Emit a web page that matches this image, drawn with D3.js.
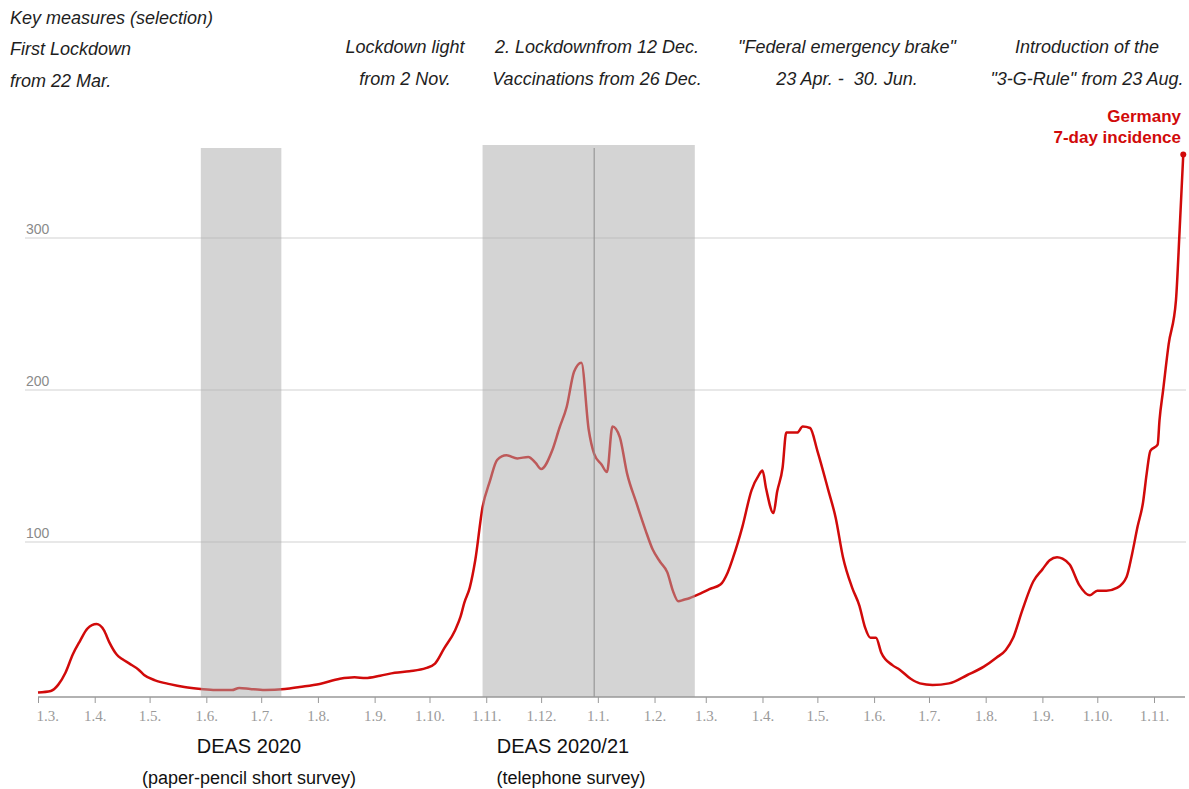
<!DOCTYPE html>
<html>
<head>
<meta charset="utf-8">
<script src="https://cdn.jsdelivr.net/npm/d3@7"></script>
<style>
body { margin: 0; background: #fff; }
text { font-family: "Liberation Sans", Arial, sans-serif; white-space: pre; }
</style>
</head>
<body>
<div id="main"></div>
<script>
var ctx = {
    w: 1189,
    h: 789,
};

// 7-day incidence Germany
var dates = [
    "2020-03-01","2020-03-08","2020-03-12","2020-03-16","2020-03-20","2020-03-24","2020-03-28","2020-04-02",
    "2020-04-06","2020-04-09","2020-04-13","2020-04-16","2020-04-20","2020-04-25","2020-04-28","2020-05-04",
    "2020-05-12","2020-05-20","2020-05-29","2020-06-06","2020-06-15","2020-06-19","2020-06-25","2020-07-03",
    "2020-07-14","2020-07-22","2020-08-02","2020-08-13","2020-08-21","2020-08-27","2020-09-04","2020-09-12",
    "2020-09-20","2020-09-29","2020-10-04","2020-10-09","2020-10-15","2020-10-18","2020-10-20","2020-10-23",
    "2020-10-26","2020-10-30","2020-11-03","2020-11-07","2020-11-12","2020-11-18","2020-11-24","2020-11-28",
    "2020-12-01","2020-12-07","2020-12-11","2020-12-15","2020-12-19","2020-12-23","2020-12-27","2020-12-30",
    "2021-01-03","2021-01-06","2021-01-09","2021-01-13","2021-01-17","2021-01-22","2021-01-27","2021-01-31",
    "2021-02-04","2021-02-08","2021-02-11","2021-02-14","2021-02-17","2021-02-20","2021-02-26","2021-03-03",
    "2021-03-09","2021-03-13","2021-03-16","2021-03-21","2021-03-26","2021-03-30","2021-04-01","2021-04-03",
    "2021-04-07","2021-04-09","2021-04-12","2021-04-14","2021-04-20","2021-04-23","2021-04-27","2021-05-01",
    "2021-05-07","2021-05-11","2021-05-15","2021-05-20","2021-05-24","2021-05-27","2021-05-30","2021-06-02",
    "2021-06-05","2021-06-11","2021-06-15","2021-06-21","2021-06-26","2021-07-03","2021-07-12","2021-07-22",
    "2021-07-31","2021-08-07","2021-08-12","2021-08-16","2021-08-21","2021-08-27","2021-09-01","2021-09-05",
    "2021-09-09","2021-09-12","2021-09-16","2021-09-21","2021-09-27","2021-10-01","2021-10-06","2021-10-12",
    "2021-10-17","2021-10-20","2021-10-23","2021-10-26","2021-10-28","2021-10-30","2021-11-03","2021-11-04",
    "2021-11-06","2021-11-09","2021-11-13","2021-11-15","2021-11-17"
];
var incidence = [
    1, 2, 6, 14, 26, 35, 43, 46,
    42, 34, 26, 23, 20, 16, 12.5, 9,
    6.5, 4.6, 3.3, 2.6, 2.6, 4, 3.3, 2.6,
    3.3, 4.6, 6.6, 10, 11, 10.5, 12, 14,
    15, 17, 20, 30, 42, 51, 60, 70,
    88, 123, 140, 154, 157, 155, 156, 152,
    148, 160, 175, 189, 212, 218, 174, 158,
    151, 146, 176, 169, 145, 126, 108, 95,
    87, 80, 68, 61, 62, 63, 66, 69,
    72, 80, 90, 110, 134, 144, 147, 135,
    119, 133, 149, 172, 172, 176, 175, 160,
    134, 116, 90, 70, 58, 44, 37, 37,
    27, 19, 16, 10, 7, 6, 7, 12.5,
    18, 24, 29, 37, 55, 74, 82, 88,
    90, 89, 85, 72, 65, 68, 68, 70,
    77, 92, 110, 126, 145, 160, 164, 180,
    200, 230, 259, 305, 355
];

var yTicks = [100, 200, 300];
var axisStart = "2020-03-01";
var axisEnd = "2021-11-01";

// DEAS survey field periods (grey bands)
var surveyStarts = ["2020-05-29", "2020-10-30"];
var surveyEnds = ["2020-07-12", "2021-02-23"];
var surveyNames = ["DEAS 2020", "DEAS 2020/21"];
var surveyModes = ["(paper-pencil short survey)", "(telephone survey)"];
var yearMark = "2020-12-30";

var headerLines = ["Key measures (selection)", "First Lockdown", "from 22 Mar."];
var measureLines = [
    ["Lockdown light", "from 2 Nov."],
    ["2. Lockdownfrom 12 Dec.", "Vaccinations from 26 Dec."],
    ["\"Federal emergency brake\"", "23 Apr. -  30. Jun."],
    ["Introduction of the", "\"3-G-Rule\" from 23 Aug."]
];
var seriesLabel = ["Germany", "7-day incidence"];

var parse = d3.utcParse("%Y-%m-%d");
var red = "#d10a0a";

var createViz = function(){
    var svg = d3.select("#main").append("svg")
        .attr("width", ctx.w)
        .attr("height", ctx.h)
        .style("display", "block");

    var data = dates.map(function(d, i){ return {date: parse(d), value: incidence[i]}; });

    var x = d3.scaleUtc()
        .domain([parse(axisStart), parse(axisEnd)])
        .range([38, 1154]);
    var y = d3.scaleLinear()
        .domain([0, 300])
        .range([694, 238]);
    var axisY = 697;

    // gridlines + y labels
    svg.append("g").selectAll("line")
        .data(yTicks).enter().append("line")
        .attr("x1", 25).attr("x2", 1186)
        .attr("y1", function(d){ return y(d); })
        .attr("y2", function(d){ return y(d); })
        .style("stroke", "#e0e0e0")
        .style("stroke-width", 1.5);
    svg.append("g").selectAll("text")
        .data(yTicks).enter().append("text")
        .attr("x", 26)
        .attr("y", function(d){ return y(d) - 4; })
        .style("font-size", "14px")
        .style("fill", "#8a8a8a")
        .text(function(d){ return d; });

    // incidence line
    var line = d3.line()
        .x(function(d){ return x(d.date); })
        .y(function(d){ return y(d.value); })
        .curve(d3.curveMonotoneX);
    svg.append("path")
        .datum(data)
        .attr("d", line)
        .style("fill", "none")
        .style("stroke", red)
        .style("stroke-width", 2.5)
        .style("stroke-linejoin", "round");

    var last = data[data.length - 1];
    svg.append("circle")
        .attr("cx", x(last.date))
        .attr("cy", y(last.value))
        .attr("r", 3)
        .style("fill", red);

    // survey bands (translucent, over the line)
    var bandTop = [148, 145];
    svg.append("g").selectAll("rect")
        .data(surveyStarts).enter().append("rect")
        .attr("x", function(d){ return x(parse(d)); })
        .attr("width", function(d, i){ return x(parse(surveyEnds[i])) - x(parse(d)); })
        .attr("y", function(d, i){ return bandTop[i]; })
        .attr("height", function(d, i){ return axisY - bandTop[i]; })
        .style("fill", "#a9a9a9")
        .style("opacity", 0.5);

    svg.append("line")
        .attr("x1", x(parse(yearMark))).attr("x2", x(parse(yearMark)))
        .attr("y1", 148).attr("y2", axisY)
        .style("stroke", "#8c8c8c")
        .style("stroke-width", 1);

    // x axis
    var ticks = d3.utcMonth.range(parse(axisStart), d3.utcDay.offset(parse(axisEnd), 1));
    var xAxis = d3.axisBottom(x)
        .tickValues(ticks)
        .tickFormat(d3.utcFormat("%-d.%-m."))
        .tickSize(6)
        .tickPadding(7);
    var gx = svg.append("g")
        .attr("transform", "translate(0," + axisY + ")")
        .call(xAxis);
    gx.select(".domain").remove();
    gx.selectAll(".tick line").style("stroke", "#999");
    gx.selectAll(".tick text")
        .style("font-family", "\"Liberation Serif\", serif")
        .style("font-size", "15px")
        .style("fill", "#9a9a9a");
    gx.select(".tick text").attr("text-anchor", "start").attr("dx", -2);
    gx.append("line")
        .attr("x1", 38).attr("x2", 1185)
        .style("stroke", "#999")
        .style("stroke-width", 1.5);

    // header texts
    var headerY = [24, 55, 87];
    svg.append("g").selectAll("text")
        .data(headerLines).enter().append("text")
        .attr("x", 10)
        .attr("y", function(d, i){ return headerY[i]; })
        .style("font-size", "18px")
        .style("font-style", "italic")
        .style("fill", "#1e1e1e")
        .text(function(d){ return d; });

    var measureX = [405, 597, 847, 1087];
    var measureY = [53, 85];
    measureLines.forEach(function(lines, i){
        svg.append("g").selectAll("text")
            .data(lines).enter().append("text")
            .attr("x", measureX[i])
            .attr("y", function(d, j){ return measureY[j]; })
            .attr("text-anchor", "middle")
            .style("font-size", "18px")
            .style("font-style", "italic")
            .style("fill", "#1e1e1e")
            .text(function(d){ return d; });
    });

    // series label
    svg.append("g").selectAll("text")
        .data(seriesLabel).enter().append("text")
        .attr("x", 1181)
        .attr("y", function(d, i){ return [122, 143][i]; })
        .attr("text-anchor", "end")
        .style("font-size", "17px")
        .style("font-weight", "bold")
        .style("fill", red)
        .text(function(d){ return d; });

    // survey labels below the axis
    var surveyNameX = [249, 563];
    var surveyModeX = [249, 571];
    svg.append("g").selectAll("text")
        .data(surveyNames).enter().append("text")
        .attr("x", function(d, i){ return surveyNameX[i]; })
        .attr("y", 753)
        .attr("text-anchor", "middle")
        .style("font-size", "20px")
        .style("fill", "#111")
        .text(function(d){ return d; });
    svg.append("g").selectAll("text")
        .data(surveyModes).enter().append("text")
        .attr("x", function(d, i){ return surveyModeX[i]; })
        .attr("y", 784)
        .attr("text-anchor", "middle")
        .style("font-size", "18px")
        .style("fill", "#111")
        .text(function(d){ return d; });
};

createViz();
</script>
</body>
</html>
